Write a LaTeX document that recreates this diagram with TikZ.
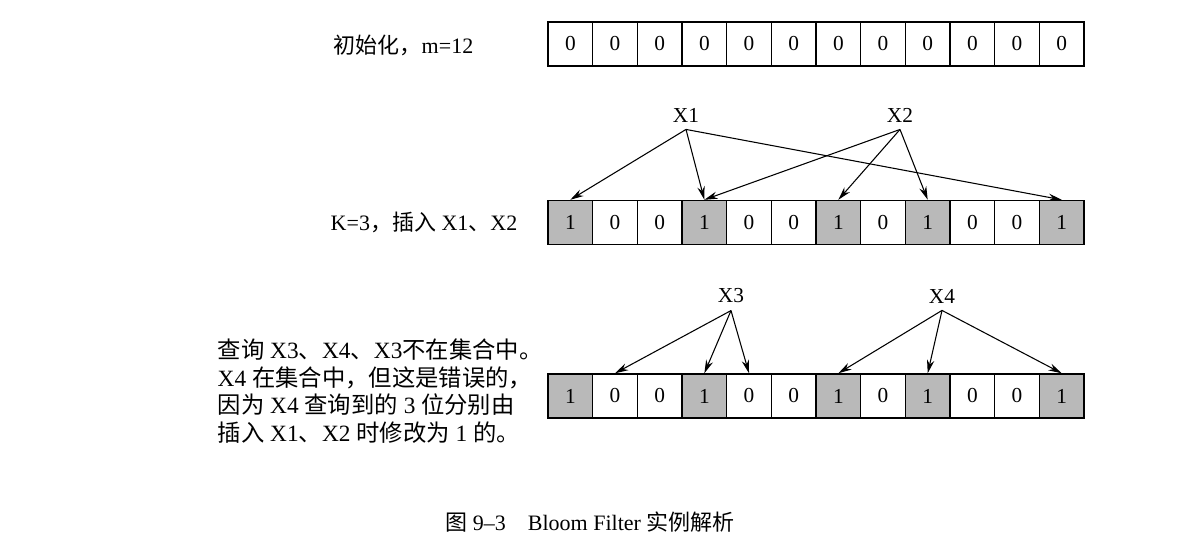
\documentclass[tikz,border=0pt]{standalone}
\usepackage{fontspec}
\setmainfont{Liberation Serif}
\newfontfamily\cjk{Noto Sans CJK SC}
\usetikzlibrary{arrows.meta}
\newcommand{\shadingbit}{gray!55}
\tikzset{every path/.style={line width=1.1pt},
  b0/.style={draw, minimum width=33.5pt, minimum height=33pt, inner sep=0pt, font=\fontsize{16}{18}\selectfont},
  b1/.style={b0, fill=\shadingbit},
  hash/.style={-{Stealth[length=10pt,width=5.5pt]}, line width=.8pt},
  key/.style={inner sep=5pt, font=\fontsize{16}{18}\selectfont},
  lbl/.style={inner sep=0pt, font=\fontsize{16.5}{20.8}\selectfont}}

\begin{document}
\begin{tikzpicture}[x=.75pt,y=-.75pt]
\useasboundingbox (0,0) rectangle (1196,538);

%init
\node[lbl, anchor=west] (init) at (333,45) {{\cjk 初始化，}m=12};
\foreach \i in {1,...,12}
  \node[b0] (a\i) at ({548+44.67*(\i-.5)},44) {0};

%insert
\node[lbl, anchor=west] (ins) at (330,222) {K=3{\cjk ，插入} X1{\cjk 、}X2};
\foreach \i/\b in {1/1,2/0,3/0,4/1,5/0,6/0,7/1,8/0,9/1,10/0,11/0,12/1}
  \node[b\b] (k\i) at ({548+44.67*(\i-.5)},222.5) {\b};
\node[key] (x1) at (686,115) {X1};
\node[key] (x2) at (900,115) {X2};
\draw[hash] (x1.south) -- (k1.north);
\draw[hash] (x1.south) -- (k4.north);
\draw[hash] (x1.south) -- (k12.north);
\draw[hash] (x2.south) -- (k4.north);
\draw[hash] (x2.south) -- (k7.north);
\draw[hash] (x2.south) -- (k9.north);

%query
\node[lbl, anchor=north west, align=left, font=\fontsize{17.5}{20.8}\selectfont] (qry) at (217,338)
  {{\cjk 查询} X3{\cjk 、}X4{\cjk 、}X3{\cjk 不在集合中。}\\
   X4 {\cjk 在集合中，但这是错误的，}\\
   {\cjk 因为} X4 {\cjk 查询到的} 3 {\cjk 位分别由}\\
   {\cjk 插入} X1{\cjk 、}X2 {\cjk 时修改为} 1 {\cjk 的。}};
\foreach \i/\b in {1/1,2/0,3/0,4/1,5/0,6/0,7/1,8/0,9/1,10/0,11/0,12/1}
  \node[b\b] (q\i) at ({548+44.67*(\i-.5)},396) {\b};
\node[key] (x3) at (731,296) {X3};
\node[key] (x4) at (942,296) {X4};
\draw[hash] (x3.south) -- (q2.north);
\draw[hash] (x3.south) -- (q4.north);
\draw[hash] (x3.south) -- (q5.north);
\draw[hash] (x4.south) -- (q7.north);
\draw[hash] (x4.south) -- (q9.north);
\draw[hash] (x4.south) -- (q12.north);

\node[lbl] (cap) at (590,522) {{\cjk 图} 9–3\quad Bloom Filter {\cjk 实例解析}};
\end{tikzpicture}
\end{document}
